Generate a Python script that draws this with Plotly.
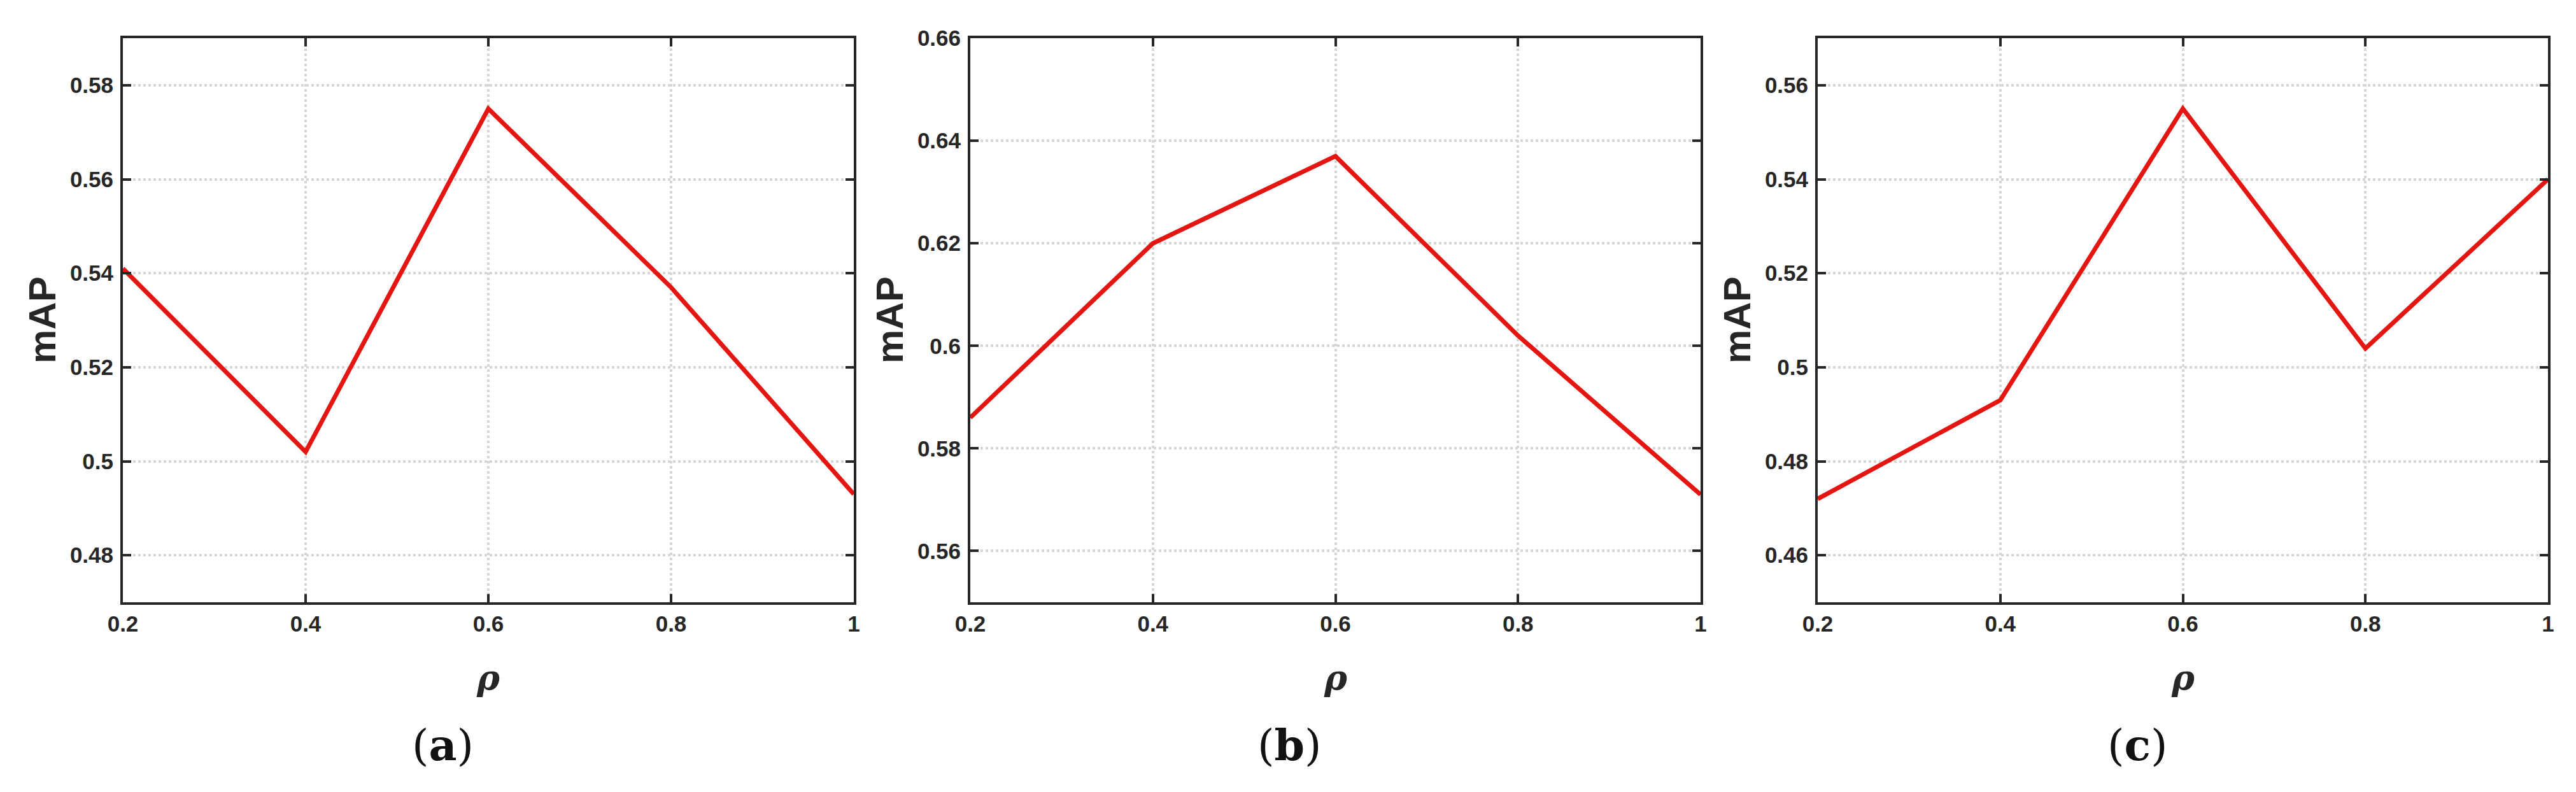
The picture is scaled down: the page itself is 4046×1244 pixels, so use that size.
import plotly.graph_objects as go

# sensitivity of mAP to rho, three datasets
rho = [0.2, 0.4, 0.6, 0.8, 1.0]
map_a = [0.541, 0.502, 0.575, 0.537, 0.493]
map_b = [0.586, 0.620, 0.637, 0.602, 0.571]
map_c = [0.472, 0.493, 0.555, 0.504, 0.540]

y_ranges = [[0.47, 0.59], [0.55, 0.66001], [0.45, 0.57]]
captions = ["a", "b", "c"]

W, H = 4046, 1244
x_px = [(185, 1333), (1516, 2663), (2847, 3994)]
top_px, bottom_px = 52, 938
ink = "#262626"

fig = go.Figure()

axis_common = dict(
    automargin=False,
    showline=True,
    linecolor=ink,
    linewidth=4,
    mirror="ticks",
    ticks="inside",
    ticklen=13,
    tickwidth=4,
    tickcolor=ink,
    showgrid=True,
    gridcolor="#d6d6d6",
    gridwidth=4,
    griddash="dot",
    zeroline=False,
    tickfont=dict(family="Liberation Sans", size=35, color=ink, weight="bold"),
)

layout = {}
annotations = []
for i, (ys, yr, cap) in enumerate(zip([map_a, map_b, map_c], y_ranges, captions)):
    n = "" if i == 0 else str(i + 1)
    fig.add_trace(
        go.Scatter(
            x=rho,
            y=ys,
            mode="lines",
            line=dict(color="#e31612", width=7),
            xaxis="x" + n,
            yaxis="y" + n,
            showlegend=False,
        )
    )
    x0, x1 = x_px[i]
    layout["xaxis" + n] = dict(
        axis_common,
        domain=[x0 / W, x1 / W],
        anchor="y" + n,
        range=[0.2, 1.0],
        tick0=0.2,
        dtick=0.2,
        ticklabelstandoff=0,
    )
    layout["yaxis" + n] = dict(
        axis_common,
        domain=[(H - bottom_px) / H, (H - top_px) / H],
        anchor="x" + n,
        range=yr,
        dtick=0.02,
        tick0=0.4,
        ticklabelstandoff=4,
    )
    mid_x = (x0 + x1) / 2
    # y-axis title
    annotations.append(
        dict(
            text="mAP",
            xref="paper",
            yref="paper",
            x=(x0 - 126) / W,
            y=(H - (top_px + bottom_px) / 2) / H,
            xanchor="center",
            yanchor="middle",
            textangle=-90,
            showarrow=False,
            font=dict(family="Liberation Sans", size=60, color=ink, weight="bold"),
        )
    )
    # x-axis title
    annotations.append(
        dict(
            text="ρ",
            xref="paper",
            yref="paper",
            x=mid_x / W,
            y=(H - 1057) / H,
            xanchor="center",
            yanchor="middle",
            showarrow=False,
            font=dict(family="DejaVu Serif", size=54, color=ink,
                      weight="bold", style="italic"),
        )
    )
    # subfigure caption
    annotations.append(
        dict(
            text=f"(<b>{cap}</b>)",
            xref="paper",
            yref="paper",
            x=(mid_x - 72) / W,
            y=(H - 1162) / H,
            xanchor="center",
            yanchor="middle",
            showarrow=False,
            font=dict(family="DejaVu Serif", size=68, color="#111111"),
        )
    )

fig.update_layout(
    **layout,
    annotations=annotations,
    width=W,
    height=H,
    margin=dict(l=0, r=0, t=0, b=0),
    paper_bgcolor="white",
    plot_bgcolor="white",
)

fig.write_html("out.html")
